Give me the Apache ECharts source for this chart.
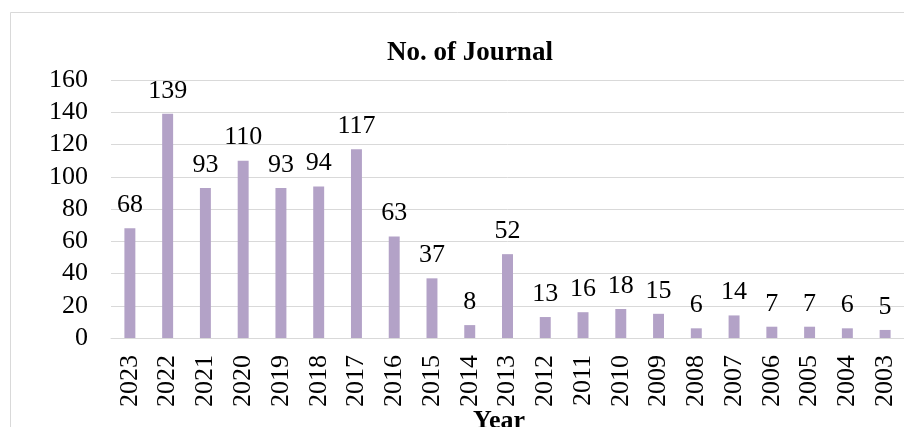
<!DOCTYPE html>
<html>
<head>
<meta charset="utf-8">
<script src="https://cdn.jsdelivr.net/npm/echarts@6/dist/echarts.min.js"></script>
<style>html,body{margin:0;padding:0;background:#fff;}#c{width:904px;height:427px;}</style>
</head>
<body>
<div id="c"></div>
<script>
const categories = ['2023','2022','2021','2020','2019','2018','2017','2016','2015','2014','2013','2012','2011','2010','2009','2008','2007','2006','2005','2004','2003'];
const journals = [68,139,93,110,93,94,117,63,37,8,52,13,16,18,15,6,14,7,7,6,5];
const titleText = 'No. of Journal';
const xName = 'Year';

const FONT = '"Liberation Serif", "Times New Roman", serif';
const chart = echarts.init(document.getElementById('c'));
chart.setOption({
  animation: false,
  backgroundColor: '#fff',
  graphic: [{
    type: 'rect', silent: true,
    shape: { x: 10.5, y: 12.5, width: 2000, height: 2000 },
    style: { fill: 'none', stroke: '#d9d9d9', lineWidth: 1 }
  }],
  title: [
    { text: titleText, left: 465, top: 35, textAlign: 'center',
      textStyle: { fontFamily: FONT, fontWeight: 'bold', fontSize: 27, color: '#000' } },
    { text: xName, left: 494, top: 403, textAlign: 'center',
      textStyle: { fontFamily: FONT, fontWeight: 'bold', fontSize: 26, color: '#000' } }
  ],
  grid: { left: 111, right: -1, top: 80, bottom: 89, containLabel: false },
  xAxis: {
    type: 'category', data: categories,
    axisLine: { lineStyle: { color: '#d9d9d9', width: 1 } },
    axisTick: { show: false },
    axisLabel: { rotate: 90, margin: 17, interval: 0, fontFamily: FONT, fontSize: 26, color: '#000' }
  },
  yAxis: {
    type: 'value', min: 0, max: 160, interval: 20,
    axisLine: { show: false }, axisTick: { show: false },
    splitLine: { lineStyle: { color: '#d9d9d9', width: 1 } },
    axisLabel: { margin: 23, fontFamily: FONT, fontSize: 26, color: '#000' }
  },
  series: [{
    type: 'bar', data: journals, barWidth: '29%',
    itemStyle: { color: '#b3a2c7' },
    label: { show: true, position: 'top', distance: 10, fontFamily: FONT, fontSize: 26, color: '#000' }
  }]
});
</script>
</body>
</html>
